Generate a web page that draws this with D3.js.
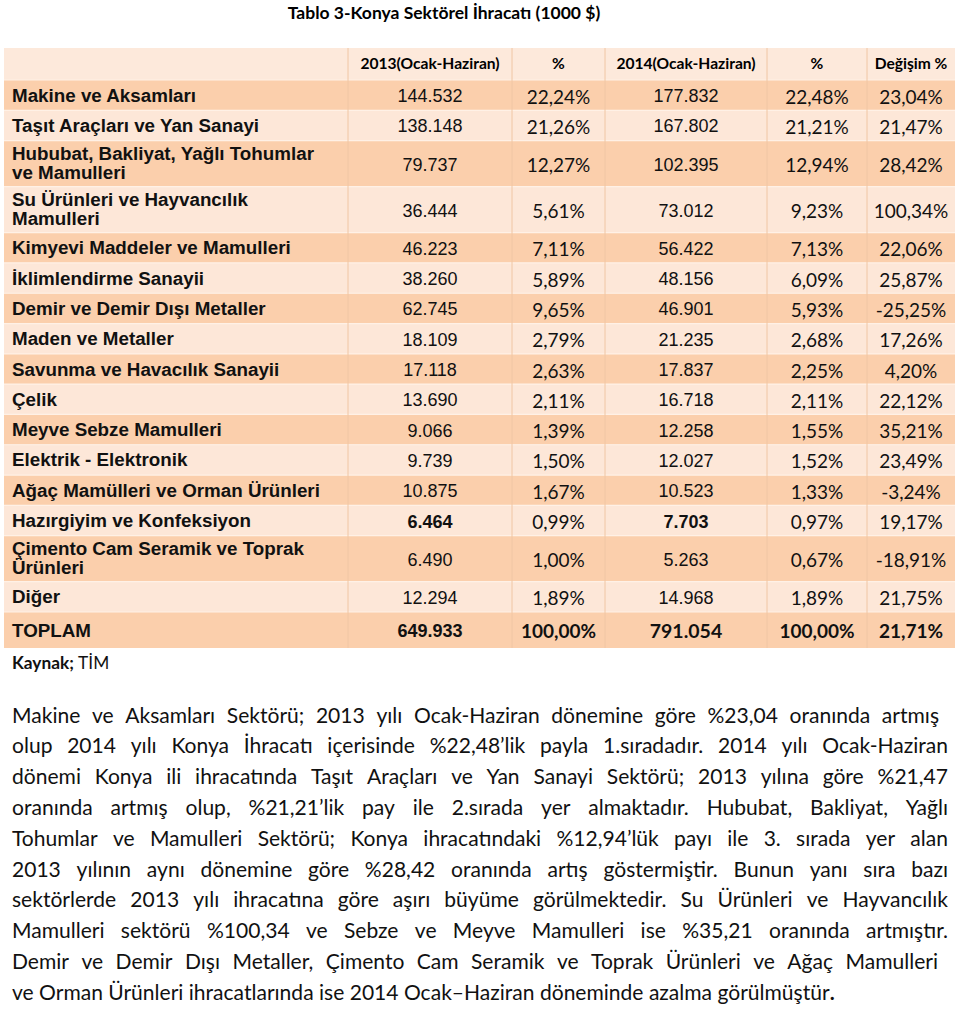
<!DOCTYPE html>
<html><head><meta charset="utf-8">
<script src="https://cdn.jsdelivr.net/npm/d3@7/dist/d3.min.js"></script>
<style>html,body{margin:0;padding:0;background:#fff;}svg{display:block;}</style>
</head><body>
<svg id="c" width="960" height="1014"></svg>
<script>
// ---------- DATA ----------
const title = "Tablo 3-Konya Sektörel İhracatı (1000 $)";
const headers = ["", "2013(Ocak-Haziran)", "%", "2014(Ocak-Haziran)", "%", "Değişim %"];
const sectors = ["Makine ve Aksamları", "Taşıt Araçları ve Yan Sanayi", "Hububat, Bakliyat, Yağlı Tohumlar\nve Mamulleri", "Su Ürünleri ve Hayvancılık\nMamulleri", "Kimyevi Maddeler ve Mamulleri", "İklimlendirme Sanayii", "Demir ve Demir Dışı Metaller", "Maden ve Metaller", "Savunma ve Havacılık Sanayii", "Çelik", "Meyve Sebze Mamulleri", "Elektrik - Elektronik", "Ağaç Mamülleri ve Orman Ürünleri", "Hazırgiyim ve Konfeksiyon", "Çimento Cam Seramik ve Toprak\nÜrünleri", "Diğer", "TOPLAM"];
const v2013 = [144532, 138148, 79737, 36444, 46223, 38260, 62745, 18109, 17118, 13690, 9066, 9739, 10875, 6464, 6490, 12294, 649933];
const p2013 = [22.24, 21.26, 12.27, 5.61, 7.11, 5.89, 9.65, 2.79, 2.63, 2.11, 1.39, 1.50, 1.67, 0.99, 1.00, 1.89, 100.00];
const v2014 = [177832, 167802, 102395, 73012, 56422, 48156, 46901, 21235, 17837, 16718, 12258, 12027, 10523, 7703, 5263, 14968, 791054];
const p2014 = [22.48, 21.21, 12.94, 9.23, 7.13, 6.09, 5.93, 2.68, 2.25, 2.11, 1.55, 1.52, 1.33, 0.97, 0.67, 1.89, 100.00];
const change = [23.04, 21.47, 28.42, 100.34, 22.06, 25.87, -25.25, 17.26, 4.20, 22.12, 35.21, 23.49, -3.24, 19.17, -18.91, 21.75, 21.71];
const boldRows = ["Hazırgiyim ve Konfeksiyon"]; // values shown bold in this row
const sourceLabel = "Kaynak;";
const sourceName = "TİM";
const paragraph = [
  "Makine ve Aksamları Sektörü; 2013 yılı Ocak-Haziran dönemine göre %23,04 oranında artmış",
  "olup 2014 yılı Konya İhracatı içerisinde %22,48’lik payla 1.sıradadır. 2014 yılı Ocak-Haziran",
  "dönemi Konya ili ihracatında Taşıt Araçları ve Yan Sanayi Sektörü; 2013 yılına göre %21,47",
  "oranında artmış olup, %21,21’lik pay ile 2.sırada yer almaktadır. Hububat, Bakliyat, Yağlı",
  "Tohumlar ve Mamulleri Sektörü; Konya ihracatındaki %12,94’lük payı ile 3. sırada yer alan",
  "2013 yılının aynı dönemine göre %28,42 oranında artış göstermiştir. Bunun yanı sıra bazı",
  "sektörlerde 2013 yılı ihracatına göre aşırı büyüme görülmektedir. Su Ürünleri ve Hayvancılık",
  "Mamulleri sektörü %100,34 ve Sebze ve Meyve Mamulleri ise %35,21 oranında artmıştır.",
  "Demir ve Demir Dışı Metaller, Çimento Cam Seramik ve Toprak Ürünleri ve Ağaç Mamulleri",
  "ve Orman Ürünleri ihracatlarında ise 2014 Ocak–Haziran döneminde azalma görülmüştür"
];

// ---------- LAYOUT ----------
const svg = d3.select("#c");
const loc = d3.formatLocale({decimal: ",", thousands: ".", grouping: [3], currency: ["", ""], minus: "-"});
const fmtNum = loc.format(",d");
const fmtPct = v => loc.format(".2f")(v) + "%";

const arial = "'Liberation Sans', Arial, sans-serif";
const calib = "Lato, 'Open Sans', sans-serif";
const DARK = "#fbcfac", LIGHT = "#fde7d8", HEAD = "#fde9db";

const colW = [344, 164, 93, 162, 100, 88];
const colEdges = [0]; colW.forEach(w => colEdges.push(colEdges[colEdges.length - 1] + w));
const x = d3.scaleLinear().domain([0, colEdges[colEdges.length - 1]]).range([4, 955]);

const rowUnits = [32].concat(sectors.map(s => s === "TOPLAM" ? 36 : (s.includes("\n") ? 46 : 30.3)));
const rowEdges = [0]; rowUnits.forEach(h => rowEdges.push(rowEdges[rowEdges.length - 1] + h));
const y = d3.scaleLinear().domain([0, rowEdges[rowEdges.length - 1]]).range([48, 648]);

// title
svg.append("text").attr("x", 444).attr("y", 12).attr("text-anchor", "middle")
  .attr("dominant-baseline", "central").attr("font-family", calib).attr("font-weight", "bold")
  .attr("font-size", 17.5).attr("fill", "#000").text(title);

const table = svg.append("g");
table.selectAll("rect.row").data(rowUnits).join("rect").attr("class", "row")
  .attr("x", x(0)).attr("width", x(colEdges[6]) - x(0))
  .attr("y", (d, i) => y(rowEdges[i])).attr("height", (d, i) => y(rowEdges[i + 1]) - y(rowEdges[i]))
  .attr("fill", (d, i) => i === 0 ? HEAD : ((i - 1) % 2 === 0 ? DARK : LIGHT));

table.selectAll("line.h").data(rowEdges.slice(1, -1)).join("line").attr("class", "h")
  .attr("x1", x(0)).attr("x2", x(colEdges[6])).attr("y1", d => y(d)).attr("y2", d => y(d))
  .attr("stroke", "#fff1e6").attr("stroke-width", 1.2);
table.selectAll("line.v").data(colEdges.slice(1, -1)).join("line").attr("class", "v")
  .attr("x1", d => x(d)).attr("x2", d => x(d)).attr("y1", y(0)).attr("y2", y(rowEdges[rowEdges.length - 1]))
  .attr("stroke", "#f0c6a4").attr("stroke-width", 1);

const cx = j => (x(colEdges[j]) + x(colEdges[j + 1])) / 2;
const cy = i => (y(rowEdges[i]) + y(rowEdges[i + 1])) / 2;

table.selectAll("text.hd").data(headers.slice(1)).join("text").attr("class", "hd")
  .attr("x", (d, j) => cx(j + 1)).attr("y", cy(0) - 1)
  .attr("text-anchor", "middle").attr("dominant-baseline", "central")
  .attr("font-family", calib).attr("font-weight", "bold").attr("font-size", 15.6).text(d => d);

sectors.forEach((s, i) => {
  const r = i + 1;
  const top = y(rowEdges[r]);
  const total = s === "TOPLAM";
  const lines = s.split("\n");
  lines.forEach((ln, k) => {
    table.append("text").attr("x", 12)
      .attr("y", lines.length > 1 ? top + 12.5 + k * 19.5 : cy(r) + (total ? 1 : 0))
      .attr("dominant-baseline", "central").attr("font-family", arial).attr("font-weight", "bold")
      .attr("font-size", 18.8).attr("fill", "#111").text(ln);
  });
  const b = boldRows.includes(s);
  const cells = [
    {t: fmtNum(v2013[i]), f: arial, w: (total || b) ? "bold" : "normal", s: 18},
    {t: fmtPct(p2013[i]), f: calib, w: total ? "bold" : "normal", s: 19},
    {t: fmtNum(v2014[i]), f: total ? calib : arial, w: (total || b) ? "bold" : "normal", s: total ? 19.5 : 18},
    {t: fmtPct(p2014[i]), f: calib, w: total ? "bold" : "normal", s: 19},
    {t: fmtPct(change[i]), f: calib, w: total ? "bold" : "normal", s: 19}
  ];
  cells.forEach((c, j) => {
    table.append("text").attr("x", cx(j + 1)).attr("y", cy(r) + 1)
      .attr("text-anchor", "middle").attr("dominant-baseline", "central")
      .attr("font-family", c.f).attr("font-weight", c.w).attr("font-size", c.s)
      .attr("fill", "#111").text(c.t);
  });
});

// source
const src = svg.append("text").attr("x", 12).attr("y", 662).attr("dominant-baseline", "central")
  .attr("font-family", calib).attr("font-size", 17.3).attr("fill", "#111");
src.append("tspan").attr("font-weight", "bold").text(sourceLabel + " ");
src.append("tspan").text(sourceName);

// paragraph (justified per line)
const pLeft = 12, pRights = [939, 948, 948, 948, 948, 948, 948, 948, 938, null];
const pTop = 714, pStep = 30.8, lastLineWidth = 818;
const para = svg.append("g").attr("font-family", calib).attr("fill", "#111");
function measure(size) {
  const t = para.append("text").attr("font-size", size);
  const res = paragraph.map(line => line.split(" ").map(w => { t.text(w); return t.node().getComputedTextLength(); }));
  t.remove();
  return res;
}
function spaceW(size) {
  const t = para.append("text").attr("font-size", size).text("a a");
  const a = t.node().getComputedTextLength(); t.text("aa");
  const b = t.node().getComputedTextLength(); t.remove(); return a - b;
}
// calibrate size on last (unjustified) line
let fs = 20;
let widths = measure(fs);
const natLast = d3.sum(widths[9]) + (widths[9].length - 1) * spaceW(fs);
fs = fs * lastLineWidth / natLast;
// ensure all justified lines fit
widths = measure(fs);
let worst = 1;
paragraph.forEach((line, i) => {
  if (pRights[i] == null) return;
  const ws = widths[i];
  const need = d3.sum(ws) + (ws.length - 1) * 3.5;
  worst = Math.min(worst, (pRights[i] - pLeft) / need);
});
if (worst < 1) { fs = fs * worst; widths = measure(fs); }
const sw = spaceW(fs);
paragraph.forEach((line, i) => {
  const words = line.split(" ");
  const ws = widths[i];
  const yy = pTop + i * pStep;
  const gap = pRights[i] == null ? sw : (pRights[i] - pLeft - d3.sum(ws)) / (words.length - 1);
  let xx = pLeft;
  words.forEach((w, k) => {
    para.append("text").attr("x", xx).attr("y", yy).attr("dominant-baseline", "central")
      .attr("font-size", fs).text(w);
    xx += ws[k] + gap;
  });
  if (pRights[i] == null) {
    para.append("text").attr("x", xx - gap).attr("y", yy).attr("dominant-baseline", "central")
      .attr("font-size", fs).attr("font-weight", "bold").text(".");
  }
});
</script>
</body></html>
